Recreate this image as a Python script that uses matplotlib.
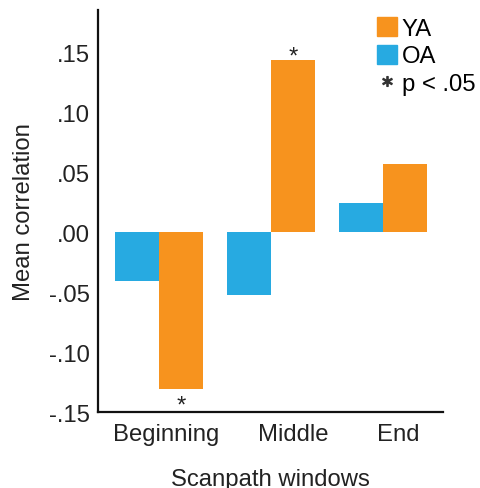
import matplotlib.pyplot as plt
import numpy as np
from matplotlib.patches import Patch
from matplotlib.lines import Line2D

windows = ["Beginning", "Middle", "End"]
ya_corr = [-0.131, 0.143, 0.057]
oa_corr = [-0.041, -0.052, 0.024]
ya_sig = [True, True, False]
yticks = [-0.15, -0.10, -0.05, 0.00, 0.05, 0.10, 0.15]
ytick_labels = ["-.15", "-.10", "-.05", ".00", ".05", ".10", ".15"]

orange = "#F7931E"
blue = "#27AAE1"

plt.rcParams['font.family'] = ['Liberation Sans', 'DejaVu Sans']
fs = 17.2

fig = plt.figure(figsize=(4.8, 4.89), dpi=100)
ax = fig.add_axes([0.204, 0.155, 0.719, 0.8225])

x = np.arange(len(windows))
width = 0.394

ax.bar(x - width / 2, oa_corr, width, color=blue)
ax.bar(x + width / 2, ya_corr, width, color=orange)

# significance stars on the YA bars
for xi, val, sig in zip(x, ya_corr, ya_sig):
    if not sig:
        continue
    if val < 0:
        ax.annotate("*", (xi + width / 2, val), xytext=(0, -4), textcoords="offset points",
                    ha="center", va="top", fontsize=fs, color="#222222")
    else:
        ax.annotate("*", (xi + width / 2, val), xytext=(0, -5), textcoords="offset points",
                    ha="center", va="bottom", fontsize=fs, color="#222222")

ax.set_xlim(-0.546, 2.54)
ax.set_ylim(-0.15, 0.185)
ax.set_yticks(yticks)
ax.set_yticklabels(ytick_labels, fontsize=fs)
ax.set_xticks(x + np.array([0.06, 0.2, 0.14]))
ax.set_xticklabels(windows, fontsize=fs)
ax.tick_params(length=0, pad=8, colors="#222222")
ax.tick_params(axis="y", pad=6)

ax.set_xlabel("Scanpath windows", fontsize=fs, labelpad=16, color="#222222")
ax.set_ylabel("Mean correlation", fontsize=fs, labelpad=10, color="#222222")

for side in ["top", "right"]:
    ax.spines[side].set_visible(False)
for side in ["left", "bottom"]:
    ax.spines[side].set_linewidth(1.6)
    ax.spines[side].set_color("#111111")

handles = [Patch(color=orange), Patch(color=blue),
           Line2D([], [], ls="none", marker="$*$", markersize=7, color="#333333")]
ax.legend(handles, ["YA", "OA", "p < .05"], loc="upper left",
          bbox_to_anchor=(0.785, 0.963), bbox_transform=fig.transFigure,
          frameon=False, fontsize=fs, handlelength=0.85, handleheight=0.85,
          handletextpad=0.2, labelspacing=0.2, borderpad=0, borderaxespad=0)

plt.savefig("out.png", dpi=100)
